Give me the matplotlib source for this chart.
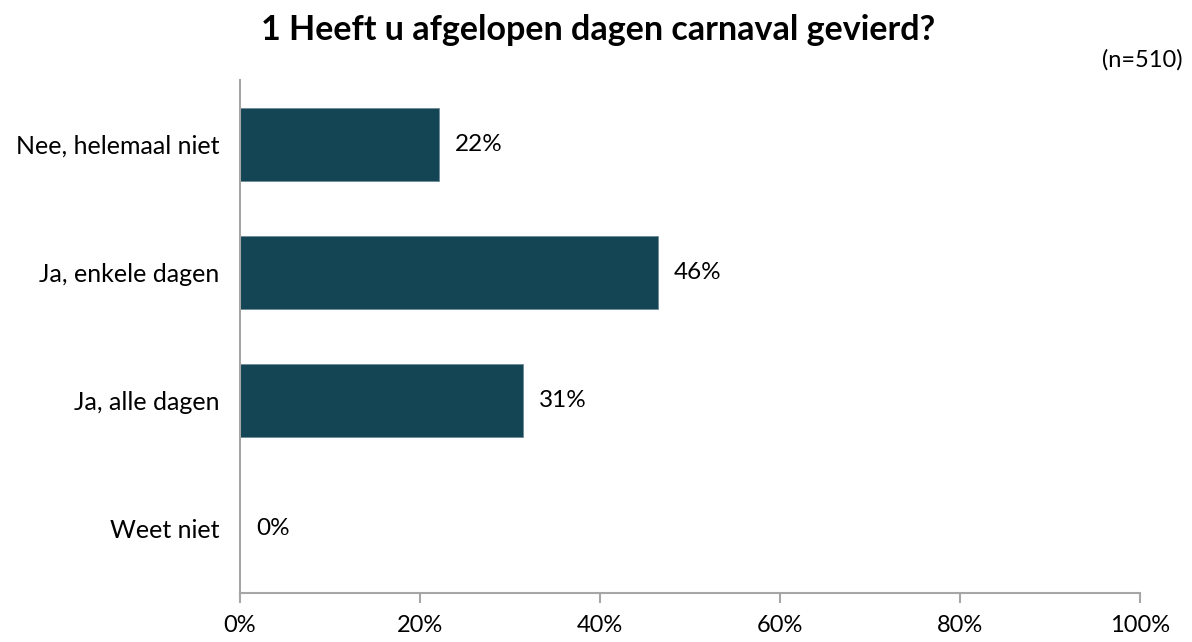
import matplotlib
matplotlib.use("Agg")
import matplotlib.pyplot as plt
from matplotlib.ticker import FuncFormatter

categories = ["Nee, helemaal niet", "Ja, enkele dagen", "Ja, alle dagen", "Weet niet"]
values = [22.1, 46.4, 31.4, 0.0]
title = "1 Heeft u afgelopen dagen carnaval gevierd?"
n_label = "(n=510)"

bar_color = "#134555"
axis_gray = "#a6a6a6"

plt.rcParams["font.family"] = ["Lato", "DejaVu Sans"]

fig = plt.figure(figsize=(11.92, 6.42), dpi=100)
ax = fig.add_axes([240/1192, 1 - 593/642, 900/1192, 513/642])

ypos = list(range(len(categories)))
ax.barh(ypos, values, height=0.57, color=bar_color, edgecolor="#6d8a96", linewidth=0.6)

for y, v in zip(ypos, values):
    ax.text(v + 1.8, y, f"{v:.0f}%", va="center", ha="left", fontsize=17.5, color="#000000")

ax.set_xlim(0, 100)
ax.set_ylim(len(categories) - 0.5, -0.5)
ax.set_yticks(ypos)
ax.set_yticklabels(categories, fontsize=18)
ax.set_xticks(range(0, 101, 20))
ax.xaxis.set_major_formatter(FuncFormatter(lambda x, p: f"{x:.0f}%"))
ax.tick_params(axis="x", labelsize=17, length=7, color=axis_gray, width=1.5, pad=9)
ax.tick_params(axis="y", length=0, pad=15)

for s in ["top", "right"]:
    ax.spines[s].set_visible(False)
for s in ["left", "bottom"]:
    ax.spines[s].set_color(axis_gray)
    ax.spines[s].set_linewidth(1.5)

fig.text(598/1192, 1 - 30/642, title, ha="center", va="center", fontsize=24.5, fontweight="bold")
fig.text(1183/1192, 1 - 60/642, n_label, ha="right", va="center", fontsize=17)

fig.savefig("out.png", dpi=100)
